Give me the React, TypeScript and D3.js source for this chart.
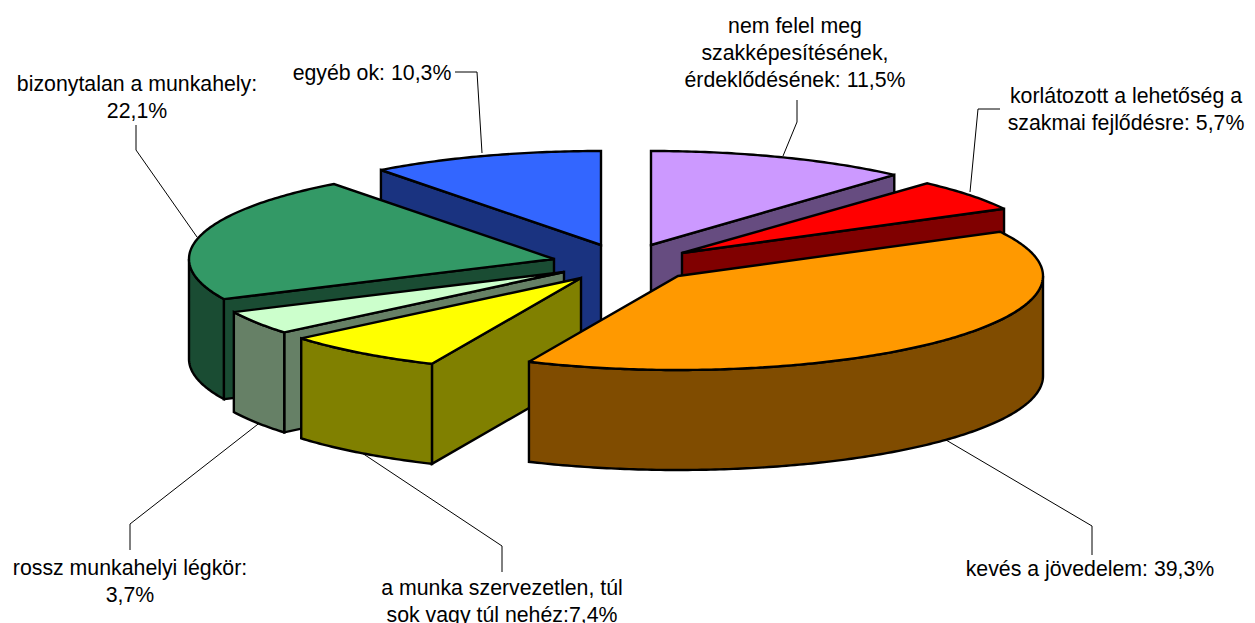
import React from "react";
import * as d3 from "d3";

const categories = [
  "nem felel meg szakképesítésének, érdeklődésének",
  "korlátozott a lehetőség a szakmai fejlődésre",
  "kevés a jövedelem",
  "a munka szervezetlen, túl sok vagy túl nehéz",
  "rossz munkahelyi légkör",
  "bizonytalan a munkahely",
  "egyéb ok",
];
const shares = [11.5, 5.7, 39.3, 7.4, 3.7, 22.1, 10.3];
const topColors = ["#CC99FF", "#FF0000", "#FF9900", "#FFFF00", "#CCFFCC", "#339966", "#3366FF"];
const wallColors = ["#664C80", "#800000", "#804C00", "#808000", "#668066", "#1A4C33", "#1A3380"];
// apex of each exploded slice on the picture
const apexes: [number, number][] = [
  [651, 245], [682, 253], [678, 276], [581, 278], [564, 272], [554, 259], [601, 245],
];
// small drawing corrections (degrees) of the original's slice edges
const startNudge = [0, 0.8, 0, 0.7, 0, 1.4, 0];
const endNudge = [0.4, 0, 0.7, 0, 1.4, 0, 0];
const drawOrder = [6, 0, 1, 5, 4, 3, 2];

const labelLines = [
  ["nem felel meg", "szakképesítésének,", "érdeklődésének: 11,5%"],
  ["korlátozott a lehetőség a", "szakmai fejlődésre: 5,7%"],
  ["kevés a jövedelem: 39,3%"],
  ["a munka szervezetlen, túl", "sok vagy túl nehéz:7,4%"],
  ["rossz munkahelyi légkör:", "3,7%"],
  ["bizonytalan a munkahely:", "22,1%"],
  ["egyéb ok: 10,3%"],
];
const labelAnchors: [number, number][] = [
  [795, 33], [1126, 103], [1090, 576], [502, 595], [130, 575], [137, 91], [372, 80],
];
const leaders: [number, number][][] = [
  [[797, 100], [797, 122], [783, 156]],
  [[1000, 109], [978, 109], [970, 192]],
  [[1092, 555], [1092, 526], [946, 440]],
  [[502, 572], [502, 546], [362, 453]],
  [[130, 550], [130, 524], [262, 421]],
  [[136, 125], [136, 150], [197, 237]],
  [[455, 72], [477, 72], [482, 153]],
];

const RX = 365, RY = 94, DEPTH = 100, FONT = 21.3, LINE = 27;
const TAU = 2 * Math.PI;
const RAD = Math.PI / 180;

const slices = d3.pie<number>().sort(null).startAngle(0).endAngle(TAU)(shares);
const toX = d3.scaleLinear().domain([-1, 1]).range([-RX, RX]);
const toY = d3.scaleLinear().domain([-1, 1]).range([-RY, RY]);
const pathOf = d3.line<[number, number]>();

function rimPoint(i: number, a: number, dy = 0): [number, number] {
  const [cx, cy] = apexes[i];
  return [cx + toX(Math.sin(a)), cy - toY(Math.cos(a)) + dy];
}
function arcPoints(i: number, a0: number, a1: number, dy = 0): [number, number][] {
  const n = Math.max(2, Math.ceil((a1 - a0) * 80));
  return d3.range(n + 1).map((k) => rimPoint(i, a0 + ((a1 - a0) * k) / n, dy));
}
function closed(pts: [number, number][]) {
  return pathOf(pts) + "Z";
}
function radialWall(i: number, a: number) {
  const [cx, cy] = apexes[i];
  return closed([
    [cx, cy],
    rimPoint(i, a),
    rimPoint(i, a, DEPTH),
    [cx, cy + DEPTH],
  ]);
}

function Slice({ i }: { i: number }) {
  const a0 = slices[i].startAngle + startNudge[i] * RAD;
  const a1 = slices[i].endAngle + endNudge[i] * RAD;
  const [cx, cy] = apexes[i];
  const common = { stroke: "#000", strokeWidth: 2.4, strokeLinejoin: "miter" as const, strokeMiterlimit: 3 };
  const r0 = Math.max(a0, Math.PI / 2);
  const r1 = Math.min(a1, (3 * Math.PI) / 2);
  return (
    <g>
      {a0 > Math.PI && <path d={radialWall(i, a0)} fill={wallColors[i]} {...common} />}
      {a1 < Math.PI && <path d={radialWall(i, a1)} fill={wallColors[i]} {...common} />}
      {r1 > r0 && (
        <path
          d={closed([...arcPoints(i, r0, r1), ...arcPoints(i, r0, r1, DEPTH).reverse()])}
          fill={wallColors[i]}
          {...common}
        />
      )}
      <path d={closed([[cx, cy], ...arcPoints(i, a0, a1)])} fill={topColors[i]} {...common} />
    </g>
  );
}

export default function App() {
  return (
    <svg
      width={1255}
      height={623}
      style={{ position: "absolute", left: 0, top: 0, background: "#fff" }}
      fontFamily="'Liberation Sans', Arial, sans-serif"
      fontSize={FONT}
    >
      {leaders.map((pts, i) => (
        <path key={categories[i]} d={pathOf(pts) ?? ""} fill="none" stroke="#000" strokeWidth={1} />
      ))}
      {drawOrder.map((i) => (
        <Slice key={i} i={i} />
      ))}
      {labelLines.map((lines, i) => (
        <text key={i} x={labelAnchors[i][0]} y={labelAnchors[i][1]} textAnchor="middle" fill="#000">
          {lines.map((l, k) => (
            <tspan key={k} x={labelAnchors[i][0]} dy={k === 0 ? 0 : LINE}>
              {l}
            </tspan>
          ))}
        </text>
      ))}
    </svg>
  );
}
